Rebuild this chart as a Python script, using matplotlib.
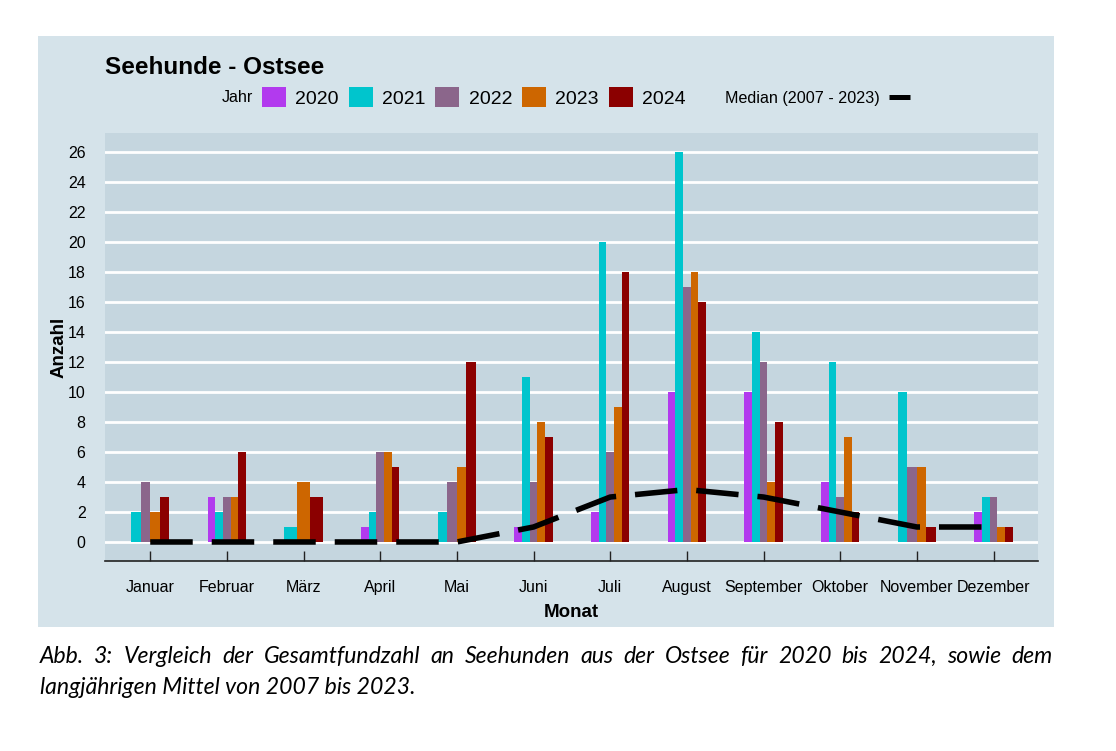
import numpy as np
import matplotlib
matplotlib.use("Agg")
import matplotlib.pyplot as plt
from matplotlib.patches import Patch, Rectangle
from matplotlib.lines import Line2D

plt.rcParams['font.family'] = ['Liberation Sans', 'DejaVu Sans']

months = ["Januar", "Februar", "März", "April", "Mai", "Juni", "Juli",
          "August", "September", "Oktober", "November", "Dezember"]
years = ["2020", "2021", "2022", "2023", "2024"]
counts_2020 = [0, 3, 0, 1, 0, 1, 2, 10, 10, 4, 0, 2]
counts_2021 = [2, 2, 1, 2, 2, 11, 20, 26, 14, 12, 10, 3]
counts_2022 = [4, 3, 0, 6, 4, 4, 6, 17, 12, 3, 5, 3]
counts_2023 = [2, 3, 4, 6, 5, 8, 9, 18, 4, 7, 5, 1]
counts_2024 = [3, 6, 3, 5, 12, 7, 18, 16, 8, 2, 1, 1]
median_0723 = [0, 0, 0, 0, 0, 1, 3, 3.5, 3, 2, 1, 1]
yticks = list(range(0, 27, 2))

colors = ["#B23AEE", "#00C5CD", "#8B668B", "#CD6600", "#8B0000"]
outer_bg = "#D5E3EA"
panel_bg = "#C5D6DF"

fig = plt.figure(figsize=(11.16, 7.51), dpi=100)
fig.patch.set_facecolor("white")
# light background block behind the chart
fig.patches.append(Rectangle((38 / 1116, 1 - 627 / 751), (1054 - 38) / 1116,
                             (627 - 36) / 751, transform=fig.transFigure,
                             facecolor=outer_bg, edgecolor="none", zorder=-5))

ax = fig.add_axes([105 / 1116, 1 - 561 / 751, (1038 - 105) / 1116, (561 - 133) / 751])
ax.set_facecolor(panel_bg)

# dodge like ggplot: only the non-zero bars share the 0.5 slot
series = [counts_2020, counts_2021, counts_2022, counts_2023, counts_2024]
group_w = 0.5
for m in range(len(months)):
    present = [k for k in range(len(series)) if series[k][m] > 0]
    w = group_w / len(present)
    for i, k in enumerate(present):
        x = m - group_w / 2 + w * (i + 0.5)
        ax.bar(x, series[k][m], width=w, color=colors[k], zorder=3)

x = np.arange(len(months))
ax.plot(x, median_0723, color="black", lw=4.0, ls=(0, (7.65, 3.42)),
        solid_capstyle="butt", dash_capstyle="butt", zorder=4)

ax.set_xlim(-0.59, 11.58)
ax.set_ylim(-1.27, 27.3)
ax.set_yticks(yticks)
ax.set_yticklabels([str(v) for v in yticks], fontsize=11.5)
ax.set_xticks(x)
ax.set_xticklabels(months, fontsize=11.5)
ax.grid(axis="y", color="white", lw=2, zorder=1)
ax.set_axisbelow(True)
for s in ["top", "right", "left"]:
    ax.spines[s].set_visible(False)
ax.spines["bottom"].set_color("#222222")
ax.spines["bottom"].set_linewidth(1.2)
ax.tick_params(axis="y", length=0, pad=14)
ax.tick_params(axis="x", direction="in", length=7, width=1, color="#222222", pad=14)
ax.set_xlabel("Monat", fontsize=13.5, fontweight="bold", labelpad=6.5)
ax.set_ylabel("Anzahl", fontsize=13.5, fontweight="bold", labelpad=0)

fig.text(105 / 1116, 1 - 68 / 751, "Seehunde - Ostsee", fontsize=17.5,
         fontweight="bold", va="center", ha="left")

# legend row
fig.text(253 / 1116, 1 - 98 / 751, "Jahr", fontsize=11.6, va="center", ha="right")
handles = [Patch(facecolor=c, edgecolor="none") for c in colors]
fig.legend(handles, years, loc="center left", bbox_to_anchor=(262 / 1116, 1 - 97.5 / 751),
           ncol=5, frameon=False, fontsize=14, handlelength=1.23, handleheight=1.18,
           handletextpad=0.48, columnspacing=0.51, borderaxespad=0, borderpad=0)
fig.legend([Line2D([0], [0], color="black", lw=3.6, solid_capstyle="butt")],
           ["Median (2007 - 2023)"], loc="center left",
           bbox_to_anchor=(725 / 1116, 1 - 98 / 751), frameon=False, fontsize=11.6,
           markerfirst=False, handlelength=1.25, handletextpad=0.6,
           borderaxespad=0, borderpad=0)

# justified caption
cap1 = ("Abb. 3: Vergleich der Gesamtfundzahl an Seehunden aus der Ostsee "
        "für 2020 bis 2024, sowie dem").split()
cap2 = "langjährigen Mittel von 2007 bis 2023."
cap_kw = dict(fontsize=16.6, style="italic", family=["Lato", "DejaVu Sans"],
              va="baseline", ha="left")
renderer = fig.canvas.get_renderer()
words = [fig.text(0, 1 - 663 / 751, w, **cap_kw) for w in cap1]
widths = [t.get_window_extent(renderer).width for t in words]
gap = (1053 - 40 - sum(widths)) / (len(words) - 1)
xpos = 40
for t, wd in zip(words, widths):
    t.set_x(xpos / 1116)
    xpos += wd + gap
fig.text(40 / 1116, 1 - 694 / 751, cap2, **cap_kw)

fig.savefig("out.png", dpi=100, facecolor="white")
